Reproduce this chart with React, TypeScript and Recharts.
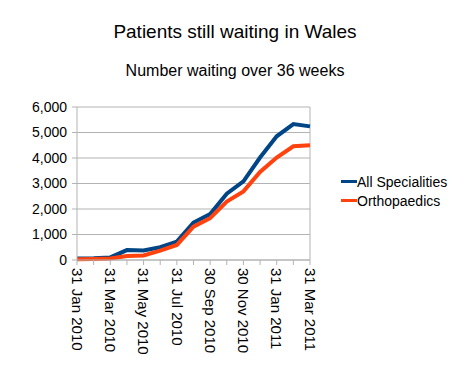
import { CartesianGrid, Line, LineChart, ReferenceLine, XAxis, YAxis } from "recharts";

const months = [
  "31 Jan 2010", "28 Feb 2010", "31 Mar 2010", "30 Apr 2010", "31 May 2010",
  "30 Jun 2010", "31 Jul 2010", "31 Aug 2010", "30 Sep 2010", "31 Oct 2010",
  "30 Nov 2010", "31 Dec 2010", "31 Jan 2011", "28 Feb 2011", "31 Mar 2011",
];
const allSpecialities = [60, 70, 100, 390, 370, 500, 720, 1470, 1800, 2600, 3080, 4020, 4850, 5330, 5240];
const orthopaedics = [30, 40, 60, 160, 180, 370, 590, 1310, 1640, 2290, 2690, 3450, 4020, 4460, 4500];
const yTicks = [0, 1000, 2000, 3000, 4000, 5000, 6000];

const data = months.map((m, i) => ({
  month: m,
  all: allSpecialities[i],
  ortho: orthopaedics[i],
}));

const FONT = '"Liberation Sans", Arial, sans-serif';
const BLUE = "#004586";
const ORANGE = "#ff420e";
const GRID = "#b3b3b3";

const legendItems = [
  { name: "All Specialities", color: BLUE },
  { name: "Orthopaedics", color: ORANGE },
];

function MonthTick(props: any) {
  const { x, y, index, payload } = props;
  if (index % 2 !== 0) return null;
  return (
    <text
      x={x}
      y={y}
      transform={`rotate(90, ${x}, ${y})`}
      dy="0.35em"
      textAnchor="start"
      fontSize={15}
      fontFamily={FONT}
      fill="#000"
    >
      {payload.value}
    </text>
  );
}

export default function App() {
  return (
    <div style={{ position: "absolute", left: 0, top: 0, width: 470, height: 384, background: "#fff" }}>
      <div
        style={{
          position: "absolute", left: 0, top: 22, width: 470, textAlign: "center",
          fontFamily: FONT, fontSize: 19, lineHeight: "19px", color: "#000",
        }}
      >
        Patients still waiting in Wales
      </div>
      <div
        style={{
          position: "absolute", left: 0, top: 63, width: 470, textAlign: "center",
          fontFamily: FONT, fontSize: 16, lineHeight: "16px", color: "#000",
        }}
      >
        Number waiting over 36 weeks
      </div>
      <LineChart width={470} height={384} data={data} margin={{ top: 107, right: 160, left: 0, bottom: 0 }}>
        <CartesianGrid vertical={false} stroke={GRID} />
        <XAxis
          dataKey="month"
          interval={0}
          height={124}
          tickSize={5}
          tickMargin={3}
          axisLine={{ stroke: GRID }}
          tickLine={{ stroke: GRID }}
          tick={<MonthTick />}
        />
        <YAxis
          width={77}
          domain={[0, 6000]}
          ticks={yTicks}
          interval={0}
          tickSize={5}
          tickMargin={5}
          axisLine={{ stroke: GRID }}
          tickLine={{ stroke: GRID }}
          tick={{ fill: "#000", fontSize: 14, fontFamily: FONT }}
          tickFormatter={(v: number) => v.toLocaleString("en-US")}
        />
        <ReferenceLine x={months[months.length - 1]} stroke={GRID} />
        <Line dataKey="all" name="All Specialities" stroke={BLUE} strokeWidth={4} dot={false} isAnimationActive={false} />
        <Line dataKey="ortho" name="Orthopaedics" stroke={ORANGE} strokeWidth={4} dot={false} isAnimationActive={false} />
      </LineChart>
      <div style={{ position: "absolute", left: 341, top: 172, fontFamily: FONT, fontSize: 14, color: "#000" }}>
        {legendItems.map((it) => (
          <div key={it.name} style={{ display: "flex", alignItems: "center", height: 19 }}>
            <span style={{ display: "inline-block", width: 16, height: 3, background: it.color }} />
            <span>{it.name}</span>
          </div>
        ))}
      </div>
    </div>
  );
}
